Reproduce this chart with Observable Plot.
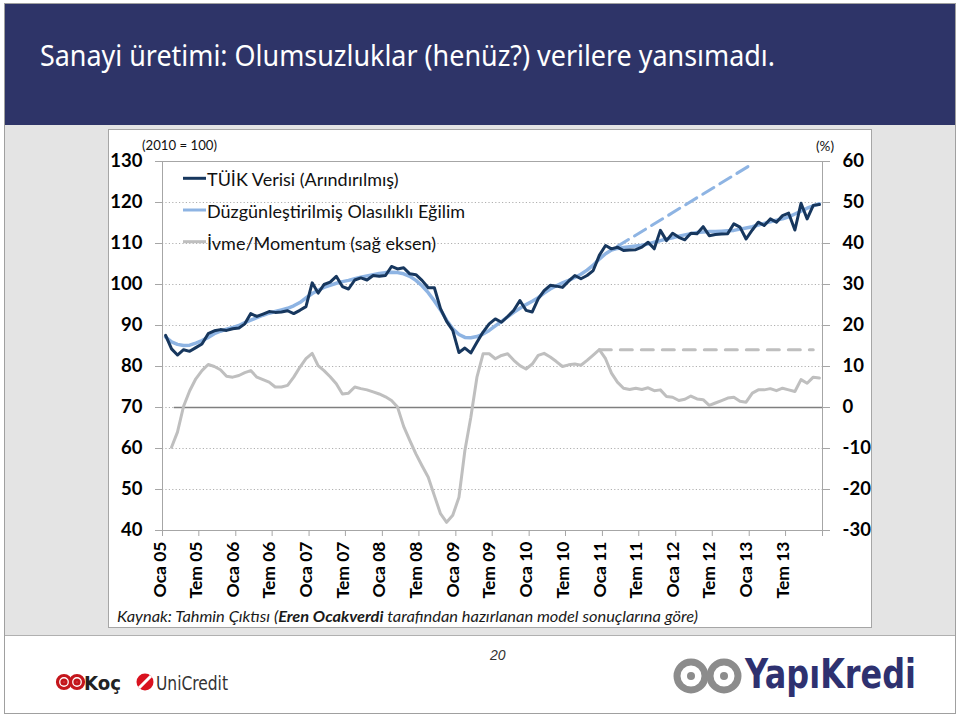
<!DOCTYPE html>
<html><head><meta charset="utf-8">
<script src="https://cdn.jsdelivr.net/npm/d3@7"></script>
<script src="https://cdn.jsdelivr.net/npm/@observablehq/plot@0.6"></script>
<style>
body{margin:0;width:960px;height:716px;position:relative;background:#fff;overflow:hidden;font-family:Lato,sans-serif}
#outer{position:absolute;left:4px;top:3px;width:952px;height:711px;border:1px solid #a0a0a0;box-sizing:border-box;background:#fff}
#header{position:absolute;left:5px;top:4px;width:950px;height:121px;background:#2e3468}
#band{position:absolute;left:5px;top:125px;width:950px;height:511px;background:#e4e4e4;border-bottom:1px solid #b0b0b0;box-sizing:border-box}
#panel{position:absolute;left:108px;top:129px;width:764px;height:499px;background:#fff;border:1px solid #a6a6a6;box-sizing:border-box}
#chart{position:absolute;left:108px;top:129px}
#overlay{position:absolute;left:0;top:0;pointer-events:none}
</style></head>
<body>
<div id="outer"></div>
<div id="header"></div>
<div id="band"></div>
<div id="panel"></div>
<div id="chart"></div>
<svg id="overlay" width="960" height="716" xmlns="http://www.w3.org/2000/svg">
  <text x="40" y="66" fill="#fff" font-family="Noto Sans" font-size="29" textLength="735" lengthAdjust="spacingAndGlyphs">Sanayi üretimi: Olumsuzluklar (henüz?) verilere yansımadı.</text>
  <text x="142" y="150" fill="#111" font-family="Lato" font-size="13.5" textLength="75" lengthAdjust="spacingAndGlyphs">(2010 = 100)</text>
  <text x="816" y="151" fill="#111" font-family="Lato" font-size="13.5">(%)</text>
  <g id="legend" font-family="Lato" font-size="18" fill="#111"></g>
  <text x="117" y="622" fill="#1a1a1a" font-family="Lato" font-style="italic" font-size="16" textLength="581" lengthAdjust="spacingAndGlyphs">Kaynak: Tahmin Çıktısı (<tspan font-weight="bold">Eren Ocakverdi</tspan> tarafından hazırlanan model sonuçlarına göre)</text>
  <text x="490" y="660" fill="#333" font-family="Liberation Sans" font-style="italic" font-size="14">20</text>
  <!-- Koç logo -->
  <g fill="none" stroke="#c4161c" stroke-width="3.2">
    <circle cx="64" cy="682" r="6.5"/><circle cx="77" cy="682" r="6.5"/>
    <circle cx="64" cy="682" r="2"/><circle cx="77" cy="682" r="2"/>
  </g>
  <text x="84" y="690" fill="#222" font-family="DejaVu Sans Condensed" font-weight="bold" font-size="19" textLength="37" lengthAdjust="spacingAndGlyphs">Koç</text>
  <!-- UniCredit logo -->
  <circle cx="145" cy="682" r="8.5" fill="#d9121f"/>
  <path d="M139 688 L151 676" stroke="#fff" stroke-width="3"/>
  <text x="156" y="690" fill="#333" font-family="DejaVu Sans Condensed" font-size="19" textLength="72" lengthAdjust="spacingAndGlyphs">UniCredit</text>
  <!-- YapıKredi logo -->
  <g fill="none" stroke="#8c8c8c" stroke-width="7">
    <circle cx="691" cy="676" r="14"/><circle cx="724" cy="676" r="14"/>
  </g>
  <g fill="#8c8c8c"><circle cx="691" cy="676" r="4"/><circle cx="724" cy="676" r="4"/></g>
  <text x="745" y="688" fill="#2e3170" font-family="DejaVu Sans Condensed" font-weight="bold" font-size="40" textLength="171" lengthAdjust="spacingAndGlyphs">YapıKredi</text>
</svg>
<script>
// ---- Data ----
const tuik = [87.6,84.3,82.8,84.1,83.7,84.6,85.5,88.0,88.7,89.0,88.8,89.2,89.4,90.4,92.9,92.2,92.8,93.4,93.2,93.3,93.6,92.9,93.7,94.6,
100.4,97.9,100.0,100.6,102.0,99.5,98.9,101.1,101.6,101.1,102.2,102.0,102.2,104.4,103.8,104.1,102.6,102.4,101.0,99.2,99.2,94.1,91.0,88.8,
83.4,84.5,83.3,85.9,88.4,90.4,91.6,90.8,92.2,93.7,96.1,93.7,93.3,96.5,98.5,99.8,99.6,99.3,100.8,102.2,101.4,102.2,103.4,107.1,
109.5,108.7,109.1,108.3,108.4,108.5,109.1,110.3,108.7,113.2,110.7,112.5,111.5,110.9,112.5,112.4,114.1,111.9,112.2,112.3,112.4,114.8,114.0,111.1,
113.3,115.2,114.4,116.0,115.2,116.8,117.4,113.3,119.8,116.0,119.3,119.5];
const trend = [87.2,86.0,85.4,85.1,85.2,85.7,86.3,87.1,88.0,88.6,89.1,89.5,90.0,90.7,91.3,91.9,92.5,93.0,93.4,93.8,94.2,94.8,95.6,96.7,
97.8,98.6,99.3,99.8,100.3,100.7,101.0,101.4,101.8,102.1,102.4,102.7,102.9,103.0,102.9,102.6,102.0,101.0,99.7,98.0,96.0,93.8,91.3,89.2,
87.8,87.1,87.0,87.3,87.9,88.8,89.9,91.0,92.1,93.2,94.2,95.1,95.9,96.8,97.9,98.9,99.7,100.4,101.0,101.7,102.5,103.5,104.7,106.2,
107.5,108.4,108.8,109.0,109.2,109.4,109.6,109.9,110.3,110.7,111.1,111.4,111.8,112.1,112.4,112.7,112.8,112.9,112.9,113.0,113.1,113.2,113.5,113.8,
114.1,114.5,114.9,115.3,115.7,116.0,116.5,117.2,117.9,118.6,119.2,119.7];
const momentum = [null,-9.7,-6.0,0.3,4.1,7.0,9.0,10.5,10.0,9.2,7.6,7.4,7.8,8.5,9.0,7.4,6.8,6.2,5.0,5.0,5.4,7.4,9.8,11.9,
13.2,10.2,9.0,7.5,5.8,3.3,3.5,5.0,4.6,4.3,3.8,3.3,2.6,1.7,0.1,-4.6,-8.0,-11.3,-14.2,-17.0,-21.5,-25.9,-28.0,-26.3,
-21.9,-10.5,-2.4,7.4,13.1,13.1,11.9,12.7,13.1,11.5,10.2,9.4,10.6,12.7,13.2,12.3,11.2,10.0,10.4,10.6,10.3,11.5,12.8,14.1,
11.9,8.4,6.2,4.7,4.4,4.7,4.4,4.8,4.1,4.3,2.7,2.5,1.7,2.0,2.8,2.1,1.9,0.5,1.1,1.7,2.3,2.5,1.5,1.3,
3.5,4.3,4.3,4.6,4.1,4.7,4.3,3.9,6.8,5.9,7.4,7.2];
const trendForecastMonths = ["2011-03","2013-01"];
const trendForecastValues = [109.3, 129.4];
const momForecastMonths = ["2010-12","2013-11"];
const momForecastValues = [14.1, 14.1];
const leftTicks = [40,50,60,70,80,90,100,110,120,130];
const rightTicks = [-30,-20,-10,0,10,20,30,40,50,60];
const tickLabels = ["Oca 05","Tem 05","Oca 06","Tem 06","Oca 07","Tem 07","Oca 08","Tem 08","Oca 09","Tem 09",
"Oca 10","Tem 10","Oca 11","Tem 11","Oca 12","Tem 12","Oca 13","Tem 13"];
const legendItems = [
  {label:"TÜİK Verisi (Arındırılmış)", color:"#17375e"},
  {label:"Düzgünleştirilmiş Olasılıklı Eğilim", color:"#8eb4e3"},
  {label:"İvme/Momentum (sağ eksen)", color:"#bfbfbf"}
];

// ---- Build ----
const start = new Date(Date.UTC(2005,0,1));
const months = d3.utcMonth.range(start, d3.utcMonth.offset(start, tuik.length));
const end = d3.utcMonth.offset(months[months.length-1], 1);
const mid = m => new Date((+m + +d3.utcMonth.offset(m,1))/2);
const offset = leftTicks[0] - rightTicks[0];
const rows = months.map((m,i)=>({date:mid(m), tuik:tuik[i], trend:trend[i], mom:momentum[i]}));
const parseM = d3.utcParse("%Y-%m");
const trendF = trendForecastMonths.map((m,i)=>({date:mid(parseM(m)), v:trendForecastValues[i]}));
const momF = momForecastMonths.map((m,i)=>({date:mid(parseM(m)), v:momForecastValues[i]}));
const tickMonths = tickLabels.map((_,k)=>months[k*6]);

const chart = Plot.plot({
  width:764, height:499,
  marginLeft:54, marginRight:50, marginTop:32, marginBottom:98,
  style:{background:"transparent", fontFamily:"Lato", overflow:"visible"},
  x:{type:"utc", domain:[start, end]},
  y:{domain:[leftTicks[0], leftTicks[leftTicks.length-1]]},
  marks:[
    Plot.ruleY(leftTicks.slice(1,-1), {stroke:"#b0b0b0", strokeDasharray:"1.2,2.2", strokeWidth:1}),
    Plot.frame({stroke:"#a6a6a6"}),
    Plot.ruleY([offset], {x1:months[2], x2:end, stroke:"#7f7f7f", strokeWidth:1.6}),
    Plot.line(rows.filter(d=>d.mom!=null), {x:"date", y:d=>d.mom+offset, stroke:"#bfbfbf", strokeWidth:3, strokeLinejoin:"round"}),
    Plot.line(momF, {x:"date", y:d=>d.v+offset, stroke:"#bfbfbf", strokeWidth:3, strokeDasharray:"12,9"}),
    Plot.line(rows, {x:"date", y:"trend", stroke:"#8eb4e3", strokeWidth:3.5, strokeLinejoin:"round"}),
    Plot.line(trendF, {x:"date", y:"v", stroke:"#8eb4e3", strokeWidth:3, strokeDasharray:"13,7"}),
    Plot.line(rows, {x:"date", y:"tuik", stroke:"#17375e", strokeWidth:3, strokeLinejoin:"round"}),
    Plot.axisY(leftTicks, {anchor:"left", tickSize:7, tickPadding:13, fontSize:18.5, fontWeight:"bold", stroke:"#a6a6a6", fill:"#000", label:null}),
    Plot.axisY(leftTicks, {anchor:"right", tickSize:7, tickPadding:13, fontSize:18.5, fontWeight:"bold", stroke:"#a6a6a6", fill:"#000", label:null, tickFormat:d=>String(d-offset)}),
    Plot.axisX([...tickMonths, end], {tickSize:6, stroke:"#a6a6a6", tickFormat:()=>"", label:null}),
    Plot.text(tickMonths, {x:d=>mid(d), text:(d,i)=>tickLabels[i], frameAnchor:"bottom", rotate:-90, textAnchor:"end", dy:11, fontSize:17.5, fontWeight:"bold", fill:"#000"})
  ]
});
document.getElementById("chart").appendChild(chart);

// legend
const lg = document.getElementById("legend");
const ns = "http://www.w3.org/2000/svg";
legendItems.forEach((it,k)=>{
  const cy = 178.3 + k*31.7;
  const ln = document.createElementNS(ns,"line");
  ln.setAttribute("x1",183); ln.setAttribute("x2",206); ln.setAttribute("y1",cy); ln.setAttribute("y2",cy);
  ln.setAttribute("stroke",it.color); ln.setAttribute("stroke-width",3);
  lg.appendChild(ln);
  const t = document.createElementNS(ns,"text");
  t.setAttribute("x",207); t.setAttribute("y",cy+8);
  t.textContent = it.label;
  lg.appendChild(t);
});
</script>
</body></html>
